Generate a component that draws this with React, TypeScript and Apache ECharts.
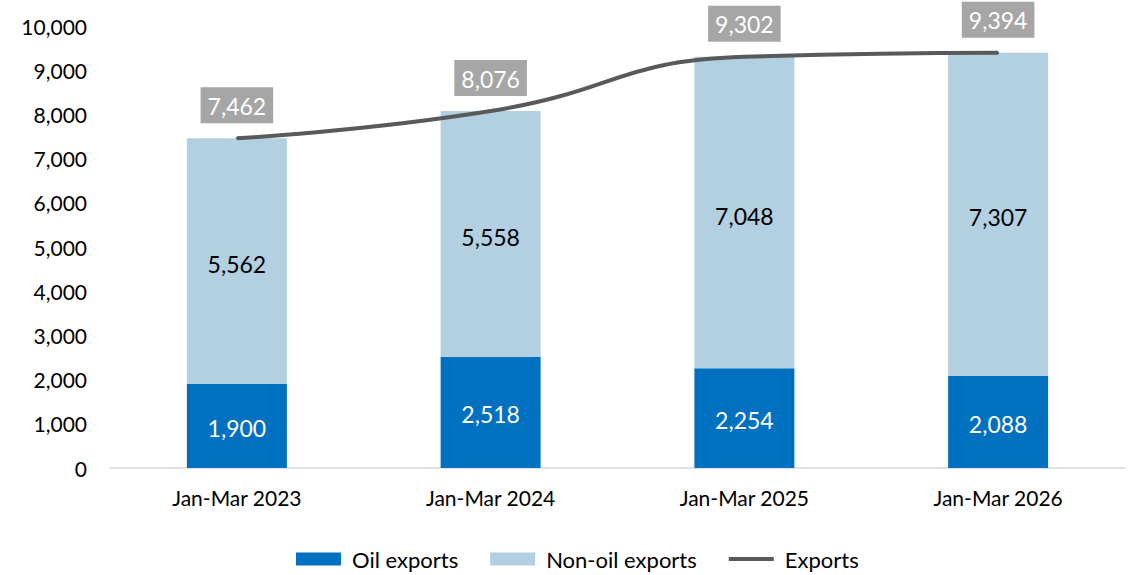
import React, { useEffect, useRef } from "react";
import * as echarts from "echarts";

const categories = ["Jan-Mar 2023", "Jan-Mar 2024", "Jan-Mar 2025", "Jan-Mar 2026"];
const oilExports = [1900, 2518, 2254, 2088];
const nonOilExports = [5562, 5558, 7048, 7307];
const totalExports = [7462, 8076, 9302, 9394];

const FONT = "Lato";
const fmt = (v: number) => v.toLocaleString("en-US");

export default function App() {
  const ref = useRef<HTMLDivElement>(null);
  useEffect(() => {
    const chart = echarts.init(ref.current!, null, { renderer: "svg" });
    chart.setOption({
      animation: false,
      textStyle: { fontFamily: FONT },
      grid: { left: 110, right: 10, top: 26, bottom: 107, containLabel: false },
      legend: {
        bottom: 0,
        left: 291,
        itemWidth: 45,
        itemHeight: 13,
        itemGap: 32,
        textStyle: { fontFamily: FONT, fontSize: 22, color: "#000", padding: [0, 0, 0, 6] },
        data: [
          { name: "Oil exports", icon: "rect" },
          { name: "Non-oil exports", icon: "rect" },
          {
            name: "Exports",
            icon: "path://M0,0 L45,0 L45,4 L0,4 Z",
            itemStyle: { color: "#595959", opacity: 1 },
          },
        ],
      },
      xAxis: {
        type: "category",
        data: categories,
        axisLine: { lineStyle: { color: "#d9d9d9", width: 1.5 } },
        axisTick: { show: false },
        axisLabel: { color: "#000", fontSize: 21, fontFamily: FONT, margin: 19 },
      },
      yAxis: {
        type: "value",
        min: 0,
        max: 10000,
        interval: 1000,
        splitLine: { show: false },
        axisLine: { show: false },
        axisTick: { show: false },
        axisLabel: {
          color: "#000",
          fontSize: 21,
          fontFamily: FONT,
          margin: 23,
          formatter: (v: number) => fmt(v),
        },
      },
      series: [
        {
          name: "Oil exports",
          type: "bar",
          stack: "exp",
          barWidth: 100,
          data: oilExports,
          itemStyle: { color: "#0070c0" },
          label: {
            show: true,
            position: "inside",
            offset: [0, 2],
            color: "#fff",
            fontSize: 23,
            fontFamily: FONT,
            formatter: (p: any) => fmt(p.value),
          },
        },
        {
          name: "Non-oil exports",
          type: "bar",
          stack: "exp",
          barWidth: 100,
          data: nonOilExports,
          itemStyle: { color: "#b2d0e2" },
          label: {
            show: true,
            position: "inside",
            offset: [0, 3],
            color: "#000",
            fontSize: 23,
            fontFamily: FONT,
            formatter: (p: any) => fmt(p.value),
          },
        },
        {
          name: "Exports",
          type: "line",
          data: totalExports,
          smooth: 0.5,
          symbol: "circle",
          symbolSize: 2,
          showSymbol: true,
          lineStyle: { color: "#595959", width: 4 },
          itemStyle: { color: "#595959" },
          label: {
            show: true,
            position: "top",
            distance: 14,
            color: "#fff",
            fontSize: 23,
            fontFamily: FONT,
            backgroundColor: "#a6a6a6",
            padding: [7, 7, 6, 7],
            formatter: (p: any) => fmt(p.value),
          },
          z: 5,
        },
      ],
    });
    return () => chart.dispose();
  }, []);
  return (
    <div
      ref={ref}
      style={{ position: "fixed", left: 0, top: 0, width: 1135, height: 575, background: "#fff" }}
    />
  );
}
